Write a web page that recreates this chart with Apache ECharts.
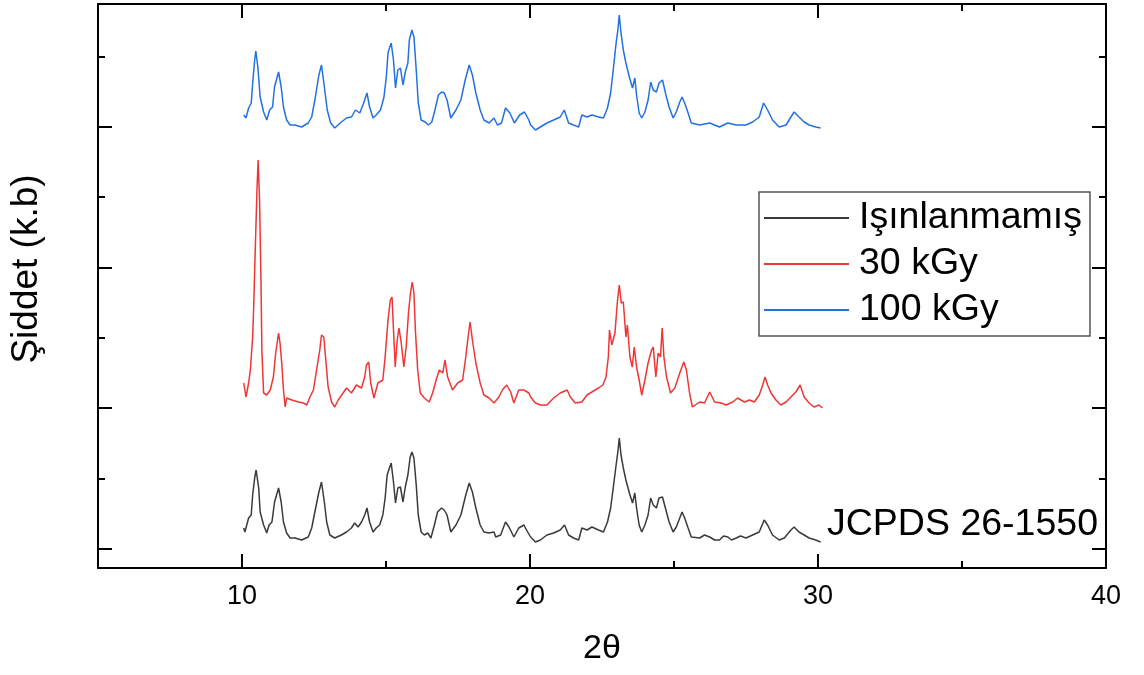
<!DOCTYPE html>
<html>
<head>
<meta charset="utf-8">
<script src="https://cdn.jsdelivr.net/npm/echarts@6/dist/echarts.min.js"></script>
<style>html,body{margin:0;padding:0;background:#fff}#c{width:1144px;height:675px}</style>
</head>
<body>
<div id="c"></div>
<script>
// ---- data ----
const seriesNames = ['Işınlanmamış', '30 kGy', '100 kGy'];
const xMajorTicks = [10, 20, 30, 40];
const xMinorTicks = [15, 25, 35];
const yMajorTicks = [19, 160, 300, 441];
const yMinorTicks = [89, 230, 371, 511];
const annotationText = 'JCPDS 26-1550';

const unirradiated = [[10.06,40],[10.10,36],[10.23,50],[10.32,53],[10.37,73],[10.44,90],[10.49,98],[10.58,80],[10.63,56],[10.75,43],[10.86,35],[10.94,43],[11.04,46],[11.13,66],[11.27,80],[11.36,66],[11.44,46],[11.55,35],[11.67,30],[11.84,30],[12.07,28],[12.30,31],[12.42,40],[12.53,56],[12.67,76],[12.76,86],[12.86,66],[12.94,46],[13.05,33],[13.22,30],[13.45,33],[13.63,36],[13.80,40],[13.91,45],[14.03,41],[14.15,46],[14.26,53],[14.34,60],[14.43,46],[14.55,36],[14.66,40],[14.78,43],[14.89,53],[14.97,70],[15.04,93],[15.12,100],[15.18,105],[15.26,86],[15.33,65],[15.41,80],[15.50,81],[15.59,66],[15.67,81],[15.76,93],[15.84,111],[15.90,116],[15.97,110],[16.05,83],[16.12,53],[16.22,36],[16.33,33],[16.45,35],[16.56,30],[16.68,43],[16.79,56],[16.93,60],[17.02,58],[17.12,53],[17.25,36],[17.43,43],[17.60,53],[17.77,73],[17.89,85],[18.00,76],[18.12,60],[18.27,43],[18.40,36],[18.58,35],[18.75,36],[18.81,31],[18.98,33],[19.15,46],[19.27,41],[19.44,31],[19.61,40],[19.79,43],[19.84,40],[20.02,31],[20.19,26],[20.36,28],[20.59,33],[20.82,35],[21.05,38],[21.20,43],[21.34,33],[21.51,30],[21.69,28],[21.80,40],[21.98,38],[22.15,41],[22.38,38],[22.55,36],[22.69,46],[22.80,60],[22.89,80],[22.99,103],[23.05,116],[23.10,130],[23.16,113],[23.24,100],[23.33,88],[23.45,75],[23.56,65],[23.64,75],[23.70,60],[23.79,43],[23.88,36],[23.99,43],[24.10,53],[24.19,70],[24.28,63],[24.39,60],[24.48,70],[24.60,71],[24.72,58],[24.83,46],[24.97,36],[25.08,41],[25.20,50],[25.28,56],[25.37,50],[25.49,40],[25.60,31],[25.89,30],[26.06,33],[26.24,31],[26.41,28],[26.58,28],[26.72,32],[26.87,31],[27.00,28],[27.16,30],[27.31,32],[27.50,30],[27.73,33],[27.96,36],[28.13,48],[28.25,43],[28.42,33],[28.65,28],[28.83,30],[29.06,38],[29.17,41],[29.34,36],[29.52,33],[29.69,30],[29.92,28],[30.09,26]];

const kGy30 = [[10.06,185],[10.14,171],[10.23,185],[10.29,198],[10.37,231],[10.40,255],[10.46,318],[10.52,378],[10.56,408],[10.61,368],[10.66,285],[10.69,218],[10.75,175],[10.86,173],[10.98,178],[11.09,191],[11.17,215],[11.27,235],[11.32,225],[11.38,205],[11.44,178],[11.50,161],[11.55,170],[11.73,168],[11.96,166],[12.13,165],[12.25,163],[12.36,171],[12.48,178],[12.59,198],[12.70,218],[12.76,233],[12.84,231],[12.91,208],[12.99,181],[13.11,166],[13.22,161],[13.34,168],[13.51,175],[13.63,180],[13.80,175],[13.97,183],[14.15,180],[14.26,191],[14.32,203],[14.40,206],[14.47,185],[14.58,170],[14.72,185],[14.89,188],[14.97,211],[15.07,248],[15.15,268],[15.21,271],[15.26,238],[15.32,201],[15.39,228],[15.45,240],[15.53,225],[15.62,201],[15.70,221],[15.78,255],[15.85,275],[15.91,286],[15.97,275],[16.02,238],[16.10,198],[16.19,175],[16.33,170],[16.50,166],[16.62,175],[16.74,188],[16.85,198],[16.97,195],[17.05,208],[17.14,191],[17.31,178],[17.49,185],[17.66,188],[17.77,211],[17.85,231],[17.92,246],[18.00,228],[18.12,205],[18.27,185],[18.40,173],[18.58,170],[18.75,165],[18.92,171],[19.04,178],[19.19,183],[19.33,176],[19.44,165],[19.61,178],[19.79,178],[19.96,175],[20.02,171],[20.19,165],[20.36,163],[20.59,163],[20.82,170],[21.05,175],[21.29,178],[21.40,171],[21.57,165],[21.80,166],[21.98,173],[22.15,176],[22.38,180],[22.53,183],[22.64,191],[22.72,211],[22.76,238],[22.84,223],[22.95,235],[23.03,265],[23.10,283],[23.17,265],[23.24,266],[23.33,231],[23.38,243],[23.47,211],[23.55,201],[23.62,221],[23.70,201],[23.79,188],[23.88,173],[23.99,188],[24.10,205],[24.22,218],[24.28,221],[24.37,191],[24.45,215],[24.53,211],[24.59,240],[24.65,211],[24.74,191],[24.88,175],[25.03,180],[25.20,195],[25.34,206],[25.43,198],[25.54,175],[25.64,161],[25.89,166],[26.06,165],[26.24,176],[26.41,166],[26.64,165],[26.81,163],[27.04,166],[27.21,170],[27.44,166],[27.62,168],[27.79,166],[27.96,173],[28.08,183],[28.16,191],[28.25,183],[28.37,175],[28.54,168],[28.71,163],[28.89,166],[29.06,171],[29.23,176],[29.38,183],[29.52,171],[29.69,165],[29.86,161],[30.04,163],[30.15,160]];

const kGy100 = [[10.06,453],[10.14,450],[10.23,460],[10.32,465],[10.38,488],[10.44,508],[10.48,517],[10.55,501],[10.63,471],[10.75,456],[10.86,448],[10.96,458],[11.06,461],[11.13,481],[11.27,496],[11.36,481],[11.44,461],[11.55,448],[11.67,443],[11.84,443],[12.07,441],[12.30,445],[12.42,451],[12.53,468],[12.67,493],[12.76,503],[12.86,481],[12.96,458],[13.08,445],[13.22,440],[13.45,446],[13.63,450],[13.80,451],[13.94,458],[14.09,455],[14.20,463],[14.34,475],[14.43,461],[14.55,450],[14.66,453],[14.81,458],[14.93,471],[15.01,491],[15.07,515],[15.12,520],[15.18,525],[15.26,508],[15.33,480],[15.41,498],[15.50,500],[15.59,483],[15.67,496],[15.76,505],[15.81,528],[15.90,538],[15.97,531],[16.05,498],[16.12,465],[16.22,448],[16.36,446],[16.47,443],[16.59,446],[16.70,458],[16.82,473],[16.93,476],[17.02,475],[17.12,468],[17.25,450],[17.43,458],[17.60,468],[17.75,488],[17.89,503],[18.00,493],[18.12,475],[18.27,458],[18.40,448],[18.58,445],[18.75,450],[18.87,443],[19.01,445],[19.15,460],[19.30,455],[19.46,445],[19.64,453],[19.81,456],[19.96,448],[20.02,443],[20.19,438],[20.36,441],[20.59,445],[20.82,448],[21.05,451],[21.19,458],[21.34,445],[21.51,443],[21.69,441],[21.80,453],[21.98,451],[22.15,453],[22.38,451],[22.55,450],[22.69,460],[22.80,475],[22.89,498],[22.99,525],[23.05,538],[23.10,553],[23.16,535],[23.24,518],[23.33,505],[23.45,491],[23.56,480],[23.64,490],[23.70,473],[23.79,455],[23.88,450],[23.99,456],[24.10,468],[24.19,486],[24.28,478],[24.39,476],[24.48,485],[24.60,488],[24.72,473],[24.83,461],[24.97,450],[25.08,456],[25.20,466],[25.28,471],[25.37,465],[25.49,455],[25.60,445],[25.89,443],[26.24,445],[26.58,441],[26.87,445],[27.16,443],[27.50,443],[27.73,446],[27.96,451],[28.11,465],[28.25,458],[28.42,448],[28.65,441],[28.89,443],[29.06,451],[29.17,456],[29.34,451],[29.52,446],[29.69,443],[29.92,441],[30.09,440]];

// ---- chart ----
const FONT = 'Liberation Sans, Arial, sans-serif';
const AX = '#000';
function xAx(pos, ticks, len, showLine, labels) {
  return {
    type: 'value', position: pos, min: 5, max: 40,
    axisLine: {show: showLine, onZero: false, lineStyle: {color: AX, width: 2}},
    axisTick: {show: true, inside: true, length: len, customValues: ticks, lineStyle: {color: AX, width: 2}},
    axisLabel: labels ? {show: true, customValues: xMajorTicks, fontSize: 27, color: '#000', fontFamily: FONT, margin: 15} : {show: false},
    splitLine: {show: false}, minorTick: {show: false}
  };
}
function yAx(pos, ticks, len, showLine) {
  return {
    type: 'value', position: pos, min: 0, max: 564,
    axisLine: {show: showLine, onZero: false, lineStyle: {color: AX, width: 2}},
    axisTick: {show: true, inside: true, length: len, customValues: ticks, lineStyle: {color: AX, width: 2}},
    axisLabel: {show: false},
    splitLine: {show: false}, minorTick: {show: false}
  };
}
const xAxes = [
  Object.assign(xAx('bottom', xMajorTicks, 14, true, true), {name: '2θ', nameLocation: 'middle', nameGap: 64, nameTextStyle: {fontSize: 34, color: '#000', fontFamily: FONT}}),
  xAx('bottom', xMinorTicks, 7, false, false),
  xAx('top', xMajorTicks.slice(0, 3), 14, true, false),
  xAx('top', xMinorTicks, 7, false, false)
];
const yAxes = [
  Object.assign(yAx('left', yMajorTicks, 14, true), {name: 'Şiddet (k.b)', nameLocation: 'middle', nameGap: 53, nameRotate: 90, nameTextStyle: {fontSize: 37, color: '#000', fontFamily: FONT, padding: [0, 0, 0, 34]}}),
  yAx('left', yMinorTicks, 7, false),
  yAx('right', yMajorTicks, 14, true),
  yAx('right', yMinorTicks, 7, false)
];
const colors = ['#3a3a3a', '#f03535', '#2370e3'];
const datasets = [unirradiated, kGy30, kGy100];

const chart = echarts.init(document.getElementById('c'), null, {renderer: 'canvas'});
chart.setOption({
  animation: false,
  backgroundColor: '#fff',
  color: colors,
  grid: {left: 97, right: 38, top: 4, bottom: 107, containLabel: false},
  title: {text: annotationText, right: 46, top: 506, padding: 0,
    textStyle: {fontSize: 37.5, fontWeight: 'normal', color: '#000', fontFamily: FONT}},
  legend: {
    orient: 'vertical', left: 759, top: 192,
    data: seriesNames,
    icon: 'rect', itemWidth: 85, itemHeight: 2, itemGap: 6,
    padding: [6, 8, 6, 5],
    borderColor: '#555', borderWidth: 1.5,
    textStyle: {fontSize: 37.5, color: '#000', fontFamily: FONT, lineHeight: 40, padding: [0, 0, 0, 5]}
  },
  xAxis: xAxes,
  yAxis: yAxes,
  series: datasets.map((d, i) => ({
    name: seriesNames[i], type: 'line', data: d,
    xAxisIndex: 0, yAxisIndex: 0,
    showSymbol: false, symbol: 'none',
    lineStyle: {width: 1.5, color: colors[i]},
    itemStyle: {color: colors[i]},
    emphasis: {disabled: true}
  }))
});
</script>
</body>
</html>
